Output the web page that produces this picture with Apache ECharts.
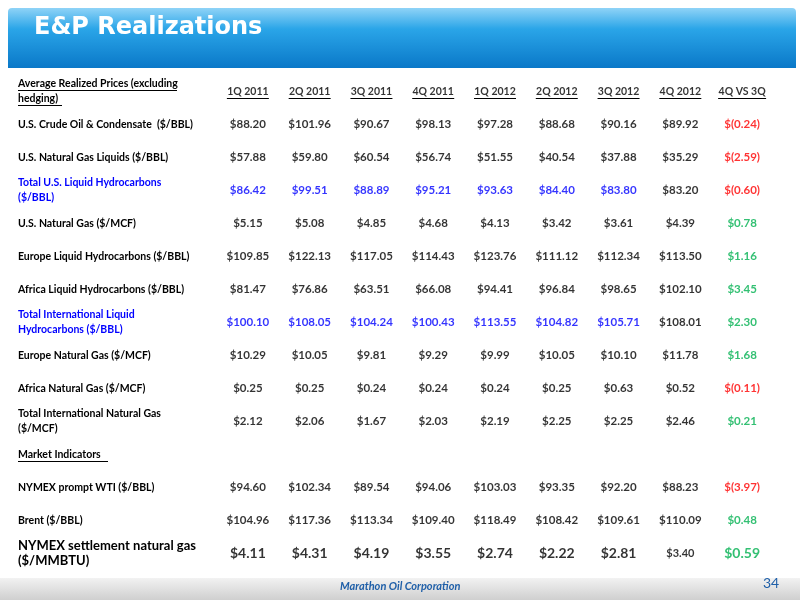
<!DOCTYPE html>
<html><head><meta charset="utf-8">
<script src="https://cdn.jsdelivr.net/npm/echarts@6/dist/echarts.min.js"></script>
<style>html,body{margin:0;padding:0;background:#fff}#c{width:800px;height:600px}</style>
</head><body><div id="c"></div>
<script>
const quarters = ['1Q 2011','2Q 2011','3Q 2011','4Q 2011','1Q 2012','2Q 2012','3Q 2012','4Q 2012','4Q VS 3Q'];
const rowNames = ['Average Realized Prices (excluding\nhedging)','U.S. Crude Oil & Condensate  ($/BBL)','U.S. Natural Gas Liquids ($/BBL)','Total U.S. Liquid Hydrocarbons\n($/BBL)','U.S. Natural Gas ($/MCF)','Europe Liquid Hydrocarbons ($/BBL)','Africa Liquid Hydrocarbons ($/BBL)','Total International Liquid\nHydrocarbons ($/BBL)','Europe Natural Gas ($/MCF)','Africa Natural Gas ($/MCF)','Total International Natural Gas\n($/MCF)','Market Indicators','NYMEX prompt WTI ($/BBL)','Brent ($/BBL)','NYMEX settlement natural gas\n($/MMBTU)'];
const blueRows = [3,7];
const crude = [88.20,101.96,90.67,98.13,97.28,88.68,90.16,89.92,-0.24];
const ngl = [57.88,59.80,60.54,56.74,51.55,40.54,37.88,35.29,-2.59];
const totalUSLiq = [86.42,99.51,88.89,95.21,93.63,84.40,83.80,83.20,-0.60];
const usGas = [5.15,5.08,4.85,4.68,4.13,3.42,3.61,4.39,0.78];
const europeLiq = [109.85,122.13,117.05,114.43,123.76,111.12,112.34,113.50,1.16];
const africaLiq = [81.47,76.86,63.51,66.08,94.41,96.84,98.65,102.10,3.45];
const totalIntlLiq = [100.10,108.05,104.24,100.43,113.55,104.82,105.71,108.01,2.30];
const europeGas = [10.29,10.05,9.81,9.29,9.99,10.05,10.10,11.78,1.68];
const africaGas = [0.25,0.25,0.24,0.24,0.24,0.25,0.63,0.52,-0.11];
const totalIntlGas = [2.12,2.06,1.67,2.03,2.19,2.25,2.25,2.46,0.21];
const wti = [94.60,102.34,89.54,94.06,103.03,93.35,92.20,88.23,-3.97];
const brent = [104.96,117.36,113.34,109.40,118.49,108.42,109.61,110.09,0.48];
const nymexGas = [4.11,4.31,4.19,3.55,2.74,2.22,2.81,3.40,0.59];
const rowsData = {1:crude,2:ngl,3:totalUSLiq,4:usGas,5:europeLiq,6:africaLiq,7:totalIntlLiq,8:europeGas,9:africaGas,10:totalIntlGas,12:wti,13:brent,14:nymexGas};

const FONT = 'Lato';
const fmt = v => v < 0 ? '$(' + Math.abs(v).toFixed(2) + ')' : '$' + v.toFixed(2);
const data = [];
quarters.forEach((q, i) => data.push({value:[i,0,q], label:{fontWeight:'bold',color:'#000',fontSize:10.5}}));
Object.keys(rowsData).forEach(r => {
  r = +r;
  rowsData[r].forEach((v, i) => {
    let color = '#000';
    if (i === 8) color = v < 0 ? '#ff0000' : '#00b050';
    else if (blueRows.includes(r) && i !== 7) color = '#0000ff';
    let fs = 11.5;
    if (r === 14) fs = (i === 7) ? 11 : 14;
    data.push({value:[i,r,fmt(v)], label:{color, fontSize:fs}});
  });
});

const chart = echarts.init(document.getElementById('c'));
chart.setOption({
  backgroundColor:'#fff',
  animation:false,
  grid:{left:217,right:27,top:75,height:495,containLabel:false,outerBoundsMode:'none'},
  xAxis:{type:'category',data:quarters,show:false},
  yAxis:{type:'category',data:rowNames.map((n,i)=>({value:n,textStyle:{
      color: blueRows.includes(i)?'#0000ff':'#000',align:'left',
      fontSize: i===14?13:10.5}})),
    inverse:true,axisLine:{show:false},axisTick:{show:false},splitLine:{show:false},
    axisLabel:{margin:199,align:'left',fontFamily:FONT,fontWeight:'bold',lineHeight:15,color:'#000'}},
  series:[{type:'scatter',symbolSize:0,data,
    label:{show:true,position:'inside',formatter:p=>p.value[2],fontFamily:FONT,fontWeight:'bold',fontSize:11}}],
  graphic:[
    {type:'rect',shape:{x:8,y:8,width:788,height:60,r:[4,4,0,0]},style:{fill:new echarts.graphic.LinearGradient(0,0,0,1,[{offset:0,color:'#8fd3f7'},{offset:0.35,color:'#2aa5e8'},{offset:1,color:'#0a78c8'}])}},
    {type:'text',left:34,top:16,style:{text:'E&P Realizations',fill:'#fff',font:'bold 24px "DejaVu Sans"'}},
    {type:'rect',shape:{x:0,y:578,width:800,height:22},style:{fill:new echarts.graphic.LinearGradient(0,0,0,1,[{offset:0,color:'#f2f2f2'},{offset:1,color:'#cfcfcf'}])}},
    {type:'text',left:340,top:581,style:{text:'Marathon Oil Corporation',fill:'#1f5fa8',font:'italic bold 11px '+FONT}},
    {type:'text',left:763,top:576,style:{text:'34',fill:'#1f5fa8',font:'14px '+FONT}}
  ]
});
const lines = [];
quarters.forEach((q,i)=>{
  const p = chart.convertToPixel({seriesIndex:0},[i,0]);
  const hw = i===8 ? 24 : 21;
  lines.push({type:'line',shape:{x1:p[0]-hw,y1:p[1]+7,x2:p[0]+hw,y2:p[1]+7},style:{stroke:'#000',lineWidth:1}});
});
const h = chart.convertToPixel({seriesIndex:0},[0,0]);
lines.push({type:'line',shape:{x1:18,y1:h[1]-1,x2:177,y2:h[1]-1},style:{stroke:'#000',lineWidth:1}});
lines.push({type:'line',shape:{x1:18,y1:h[1]+14,x2:62,y2:h[1]+14},style:{stroke:'#000',lineWidth:1}});
const m = chart.convertToPixel({seriesIndex:0},[0,11]);
lines.push({type:'line',shape:{x1:18,y1:m[1]+7,x2:108,y2:m[1]+7},style:{stroke:'#000',lineWidth:1}});
chart.setOption({graphic:chart.getOption().graphic[0].elements.concat(lines)});
</script></body></html>
